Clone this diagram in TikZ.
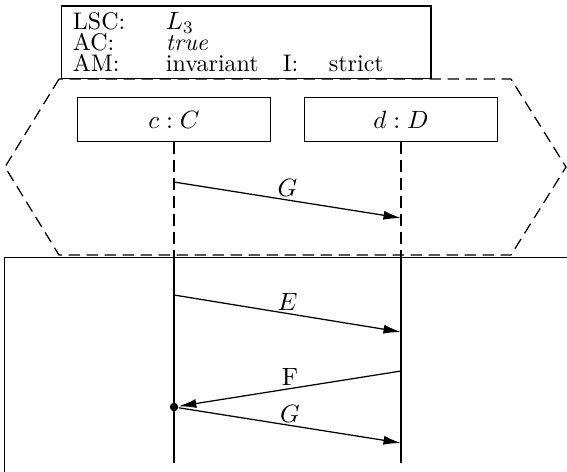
\documentclass[tikz,border=0pt]{standalone}
\usetikzlibrary{arrows.meta, positioning}

\begin{document}
\begin{tikzpicture}[
    x=4pt, y=-4pt,
    line width=0.5pt,
    header/.style={
        rectangle,
        draw,
        fill=white,
        minimum width=147.8pt,
        minimum height=29pt,
        inner xsep=4.6pt,
        inner ysep=1pt,
        text width=138.6pt,
        align=left,
        font=\fontsize{9.6pt}{8.53pt}\selectfont
    },
    instance/.style={
        rectangle,
        draw,
        minimum width=77.4pt,
        minimum height=17.6pt
    },
    chart/.style={
        dash pattern=on 4.6pt off 2.6pt
    },
    lifeline/.style={
        #1
    },
    message/.style={
        -{Latex[length=7pt, width=3.6pt]}
    },
    msglabel/.style={
        midway,
        above,
        inner sep=1pt
    },
    sync/.style={
        circle,
        fill,
        inner sep=0pt,
        minimum size=3.4pt
    }
]

\useasboundingbox (0,0) rectangle (56.7,47.1);

% prechart and main chart
\draw[chart] (5.9,7.9) -- (0.5,16.7) -- (5.9,25.5) -- (51.1,25.5) -- (56.6,16.7) -- (51.1,7.9) -- cycle;
\draw (0.45,48) -- (0.45,25.75) -- (57.5,25.75);

\node[header] (lsc) at (24.62,4.22) {%
    \makebox[37.2pt][l]{LSC:}$L_3$\\
    \makebox[37.2pt][l]{AC:}\textit{true}\\
    \makebox[37.2pt][l]{AM:}\makebox[46.8pt][l]{invariant}\makebox[18.4pt][l]{I:}strict};

\node[instance] (c) at (17.4,11.95) {$c : C$};
\node[instance] (d) at (40.1,11.95) {$d : D$};

\coordinate (c_cut) at (17.4,25.75);
\coordinate (d_cut) at (40.1,25.75);
\coordinate (c_end) at (17.4,46.3);
\coordinate (d_end) at (40.1,46.3);

\draw[lifeline=chart] (c.south) -- (c_cut);
\draw[lifeline=chart] (d.south) -- (d_cut);
\draw[lifeline] (c_cut) -- (c_end);
\draw[lifeline] (d_cut) -- (d_end);

% messages
\coordinate (g1_from) at (17.4,18.2);
\coordinate (g1_to) at (40.1,21.8);
\coordinate (e_from) at (17.4,29.5);
\coordinate (e_to) at (40.1,33.2);
\coordinate (f_from) at (40.1,37.1);
\node[sync] (cond) at (17.4,40.7) {};
\coordinate (g2_to) at (40.1,44.3);

\draw[message] (g1_from) -- (g1_to) node[msglabel] {$G$};
\draw[message] (e_from) -- (e_to) node[msglabel] {$E$};
\draw[message] (f_from) -- (cond) node[msglabel] {F};
\draw[message] (cond) -- (g2_to) node[msglabel] {$G$};

\end{tikzpicture}
\end{document}
